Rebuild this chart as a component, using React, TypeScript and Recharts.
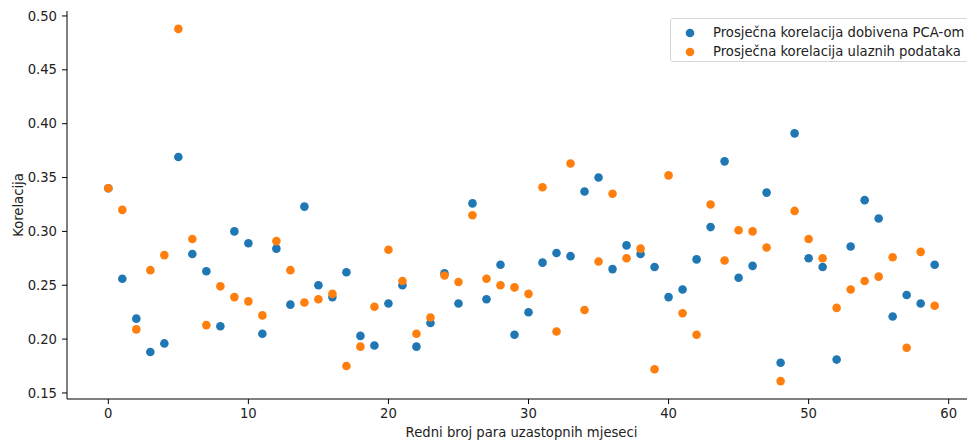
import React from "react";
import { Legend, Scatter, ScatterChart, XAxis, YAxis } from "recharts";

// redni broj para uzastopnih mjeseci
const indices = Array.from({ length: 60 }, (_, i) => i);

// Prosječna korelacija dobivena PCA-om
const pcaValues = [
    0.340, 0.256, 0.219, 0.188, 0.196, 0.369, 0.279, 0.263, 0.212, 0.300,
    0.289, 0.205, 0.284, 0.232, 0.323, 0.250, 0.239, 0.262, 0.203, 0.194,
    0.233, 0.250, 0.193, 0.215, 0.261, 0.233, 0.326, 0.237, 0.269, 0.204,
    0.225, 0.271, 0.280, 0.277, 0.337, 0.350, 0.265, 0.287, 0.279, 0.267,
    0.239, 0.246, 0.274, 0.304, 0.365, 0.257, 0.268, 0.336, 0.178, 0.391,
    0.275, 0.267, 0.181, 0.286, 0.329, 0.312, 0.221, 0.241, 0.233, 0.269,
];

// Prosječna korelacija ulaznih podataka
const inputValues = [
    0.340, 0.320, 0.209, 0.264, 0.278, 0.488, 0.293, 0.213, 0.249, 0.239,
    0.235, 0.222, 0.291, 0.264, 0.234, 0.237, 0.242, 0.175, 0.193, 0.230,
    0.283, 0.254, 0.205, 0.220, 0.259, 0.253, 0.315, 0.256, 0.250, 0.248,
    0.242, 0.341, 0.207, 0.363, 0.227, 0.272, 0.335, 0.275, 0.284, 0.172,
    0.352, 0.224, 0.204, 0.325, 0.273, 0.301, 0.300, 0.285, 0.161, 0.319,
    0.293, 0.275, 0.229, 0.246, 0.254, 0.258, 0.276, 0.192, 0.281, 0.231,
];

const xTicks = [0, 10, 20, 30, 40, 50, 60];
const yTicks = [0.15, 0.2, 0.25, 0.3, 0.35, 0.4, 0.45, 0.5];

const SERIES = [
    { name: "Prosječna korelacija dobivena PCA-om", color: "#1f77b4", values: pcaValues },
    { name: "Prosječna korelacija ulaznih podataka", color: "#ff7f0e", values: inputValues },
];

const FONT = "'DejaVu Sans', sans-serif";
const FS = 13.2;

const dot = (color: string) => (props: any) => (
    <circle cx={props.cx} cy={props.cy} r={4.3} fill={color} />
);

function LegendBox() {
    return (
        <div
            style={{
                position: "relative",
                width: 299,
                height: 44,
                boxSizing: "border-box",
                border: "1px solid #d6d6d6",
                borderRadius: 3,
                background: "rgba(255,255,255,0.8)",
                fontFamily: FONT,
                fontSize: FS,
                color: "#222",
            }}
        >
            {SERIES.map((s, i) => (
                <div key={s.name} style={{ position: "absolute", left: 0, top: 4 + i * 19, height: 19, width: 299 }}>
                    <svg width={12} height={12} style={{ position: "absolute", left: 13, top: 3.5 }}>
                        <circle cx={6} cy={6} r={4.3} fill={s.color} />
                    </svg>
                    <span style={{ position: "absolute", left: 42, top: 0, lineHeight: "19px", whiteSpace: "nowrap" }}>
                        {s.name}
                    </span>
                </div>
            ))}
        </div>
    );
}

export default function App() {
    const tables = SERIES.map((s) => indices.map((x) => ({ x, y: s.values[x] })));
    const tick = { fontSize: FS, fill: "#222", fontFamily: FONT };

    return (
        <div style={{ position: "absolute", left: 0, top: 0, width: 967, height: 441, overflow: "hidden", background: "#fff" }}>
            <ScatterChart width={990} height={441} margin={{ top: 11, right: 14, bottom: 0, left: 0 }}>
                <XAxis
                    xAxisId="top"
                    orientation="top"
                    dataKey="x"
                    type="number"
                    domain={[-2.95, 61.95]}
                    height={0}
                    tick={false}
                    tickLine={false}
                    axisLine={{ stroke: "#000", strokeWidth: 1 }}
                />
                <XAxis
                    dataKey="x"
                    type="number"
                    domain={[-2.95, 61.95]}
                    ticks={xTicks}
                    height={42}
                    tickSize={5}
                    tickMargin={5}
                    tick={tick}
                    axisLine={{ stroke: "#000", strokeWidth: 1 }}
                    tickLine={{ stroke: "#000" }}
                    label={{ value: "Redni broj para uzastopnih mjeseci", position: "insideBottom", offset: 4, fontSize: FS, fill: "#222", fontFamily: FONT }}
                />
                <YAxis
                    dataKey="y"
                    type="number"
                    domain={[0.1444, 0.5046]}
                    ticks={yTicks}
                    width={67}
                    tickSize={5}
                    tickMargin={5}
                    tick={tick}
                    tickFormatter={(v: number) => v.toFixed(2)}
                    axisLine={{ stroke: "#000", strokeWidth: 1 }}
                    tickLine={{ stroke: "#000" }}
                    label={{ value: "Korelacija", angle: -90, position: "insideLeft", offset: 18, fontSize: FS, fill: "#222", fontFamily: FONT, style: { textAnchor: "middle" } }}
                />
                <Legend
                    layout="vertical"
                    align="center"
                    verticalAlign="middle"
                    wrapperStyle={{ top: 18, left: 670, width: 299 }}
                    content={() => <LegendBox />}
                />
                {SERIES.map((s, i) => (
                    <Scatter
                        key={s.name}
                        name={s.name}
                        data={tables[i]}
                        fill={s.color}
                        shape={dot(s.color)}
                        isAnimationActive={false}
                    />
                ))}
            </ScatterChart>
        </div>
    );
}
